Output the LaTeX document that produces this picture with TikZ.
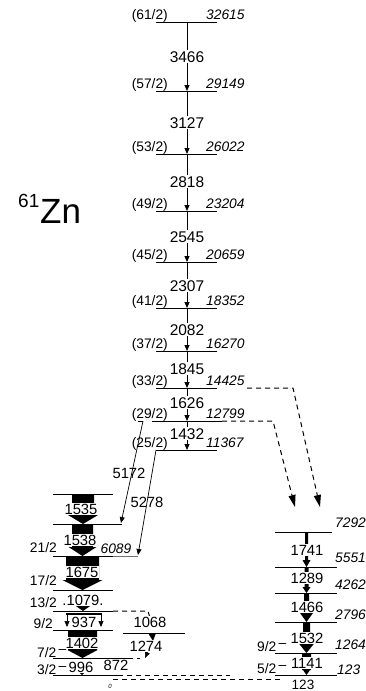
\documentclass[tikz,border=0pt]{standalone}
\usepackage{fontspec}
\setmainfont{Liberation Sans}
\usetikzlibrary{arrows.meta}
\newcommand{\fatarr}[6]{% x, ytop, ybot, half body, half head, head length
  \fill (#1-#4,#2) -- (#1+#4,#2) -- (#1+#4,#3-#6) -- (#1+#5,#3-#6) -- (#1,#3) -- (#1-#5,#3-#6) -- (#1-#4,#3-#6) -- cycle;}
\newcommand{\mneg}{\raisebox{3.5pt}{\,–}}
\tikzset{
  lvl/.style={line width=1pt},
  thin lvl/.style={line width=0.6pt, black!55},
  tr/.style={line width=1pt, -{Triangle[length=6pt,width=5pt]}},
  trthin/.style={line width=0.7pt, -{Triangle[length=6pt,width=5pt]}},
  tl/.style={font=\fontsize{15.5}{17}\selectfont, inner sep=0pt, anchor=base},
  tlw/.style={tl, fill=white, inner xsep=1pt, inner ysep=1pt},
  tls/.style={font=\fontsize{14.8}{16}\selectfont, inner sep=0pt, anchor=base, fill=white, inner xsep=0.5pt, inner ysep=1pt},
  en/.style={font=\fontsize{13.8}{16}\selectfont\itshape, inner sep=0pt, anchor=base west},
  sp/.style={font=\fontsize{13.8}{16}\selectfont, inner sep=0pt, anchor=base east},
  dsh/.style={line width=1pt, dash pattern=on 5pt off 4pt},
  dtr/.style={dsh, -{Triangle[length=12pt,width=7pt]}},
}
\begin{document}
\begin{tikzpicture}[x=1pt,y=-1pt]
\useasboundingbox (0,0) rectangle (366,691);
% nucleus label
\node[font=\fontsize{35}{40}\selectfont, inner sep=0pt, anchor=base west] (zn) at (40,223) {Zn};
\node[font=\fontsize{19}{22}\selectfont, inner sep=0pt, anchor=base west] (z61) at (18,207) {61};

% ---------------- main band levels
\foreach \y/\s/\e [count=\i] in {22/61/32615, 91/57/29149, 154/53/26022, 211/49/23204, 262/45/20659, 308/41/18352, 351/37/16270, 388/33/14425, 421/29/12799, 450/25/11367} {
  \draw[lvl] (156,\y) -- (217,\y);
  \node[sp] (s\i) at (168,\y-2.5) {(\s/2)};
  \node[en] (e\i) at (206,\y-2.5) {\e};
}
\draw[lvl] (152,421) -- (222,421);
% main band transitions
\foreach \a/\b/\t/\yb [count=\i] in {22/91/3466/62, 91/154/3127/128, 154/211/2818/187, 211/262/2545/242, 262/308/2307/291, 308/351/2082/335, 351/388/1845/374, 388/421/1626/408, 421/450/1432/439} {
  \draw[tr] (187,\a) -- (187,\b);
  \node[tlw] (t\i) at (187,\yb) {\t};
}
% dashed feeding transitions
\draw[dtr] (247,388) -- (293,388) -- (320,507);
\draw[dtr] (222,421) -- (273,421) -- (295,507);

% ---------------- left (low-spin) structure
\foreach \y [count=\i] in {494,556,590,611,630} { \draw[lvl] (53,\y) -- (113,\y); }
\draw[lvl] (53,524) -- (118,524);
\draw[line width=0.6pt] (118,524) -- (122,524);
\draw[thin lvl] (113,556) -- (138,556);
\draw[lvl] (53,658) -- (128,658);
\draw[dsh] (128,658) -- (140,658);
\draw[lvl] (53,675) -- (118,675);
\draw[dsh] (118,675) -- (230,675);
\draw[dsh] (113,679) -- (281,679);
\draw[lvl] (123,633) -- (185,633);
\draw[dsh] (113,611) -- (148,611) -- (150,618);

% spin labels
\node[sp] (l21) at (57,552) {21/2};
\node[sp] (l17) at (57,585) {17/2};
\node[sp] (l13) at (57,607) {13/2};
\node[sp] (l9)  at (53,628) {9/2};
\node[sp, anchor=base west] (l7) at (37,657) {7/2\mneg};
\node[sp, anchor=base west] (l3) at (37,674) {3/2\mneg};
\node[en, anchor=base] (e6089) at (116,553) {6089};
\node[font=\fontsize{6}{7}\selectfont\itshape, inner sep=0pt] (g0) at (110,686) {0};

% fat arrows
\fatarr{83}{494}{524}{11}{15}{9}
\node[tls] (a1535) at (81,514) {1535};
\fatarr{82.5}{524}{556}{10.5}{14}{9}
\node[tls] (a1538) at (80,545) {1538};
\fatarr{82.5}{556}{590}{16.5}{20}{10}
\node[tls] (a1675) at (82,577) {1675};
\fatarr{83}{604}{611}{0}{10}{7}
\node[tls, inner xsep=2pt] (a1079) at (83,605) {.1079.};
% 937 hollow arrow
\draw[line width=2pt] (66,613.5) -- (102,613.5);
\draw[trthin] (67,613) -- (67,627);
\draw[trthin] (101,613) -- (101,627);
\node[tls] (a937) at (84,627) {937};
\fatarr{82.5}{630}{658}{14.5}{15}{8}
\node[tls] (a1402) at (82,648) {1402};
\fatarr{82}{671}{675}{0}{4}{4}
\node[tls] (a996) at (81,672) {996};
% 1068 / 1274 / 872
\node[tls] (a1068) at (150,627) {1068};
\fill (148,633) -- (156,633) -- (153,641) -- cycle;
\draw[trthin] (153,640) -- (145,658);
\node[tls] (a1274) at (146,651) {1274};
\node[tls, fill=none] (a872) at (116,670) {872};

% long transitions into low-spin structure
\draw[line width=0.6pt] (138,421) -- (143,421);
\draw[trthin] (143,421) -- (121,523);
\draw[trthin] (156,450) -- (138,555);
\node[tls, fill=none] (a5172) at (129,478) {5172};
\node[tls, fill=none] (a5278) at (147,507) {5278};

% ---------------- right (negative parity) structure
\draw[lvl] (275,532) -- (332,532);
\foreach \y in {567,593,622,653,675} { \draw[lvl] (275,\y) -- (337,\y); }
\node[en] (r7292) at (335,527) {7292};
\node[en] (r5551) at (335,562) {5551};
\node[en] (r4262) at (335,589) {4262};
\node[en] (r2796) at (335,619) {2796};
\node[en] (r1264) at (335,649) {1264};
\node[en] (r123)  at (337,674) {123};
\node[sp, anchor=base west] (r92) at (257,651) {9/2\mneg};
\node[sp, anchor=base west] (r52) at (257,673) {5/2\mneg};
\node[font=\fontsize{13.5}{16}\selectfont, inner sep=0pt, anchor=base] (r123b) at (303,689) {123};

\fatarr{306.5}{532}{567}{1.5}{4}{7}
\node[tls] (b1741) at (307,555) {1741};
\fatarr{306.5}{567}{593}{2}{4}{6}
\node[tls] (b1289) at (307,583) {1289};
\fatarr{306.5}{593}{622}{2.5}{6.5}{9}
\node[tls] (b1466) at (307,612) {1466};
\fatarr{306.5}{622}{653}{3.5}{8}{10}
\node[tls] (b1532) at (307,643) {1532};
\fatarr{306.5}{653}{675}{4.5}{3.5}{5}
\node[tls] (b1141) at (307,668) {1141};
\end{tikzpicture}
\end{document}
